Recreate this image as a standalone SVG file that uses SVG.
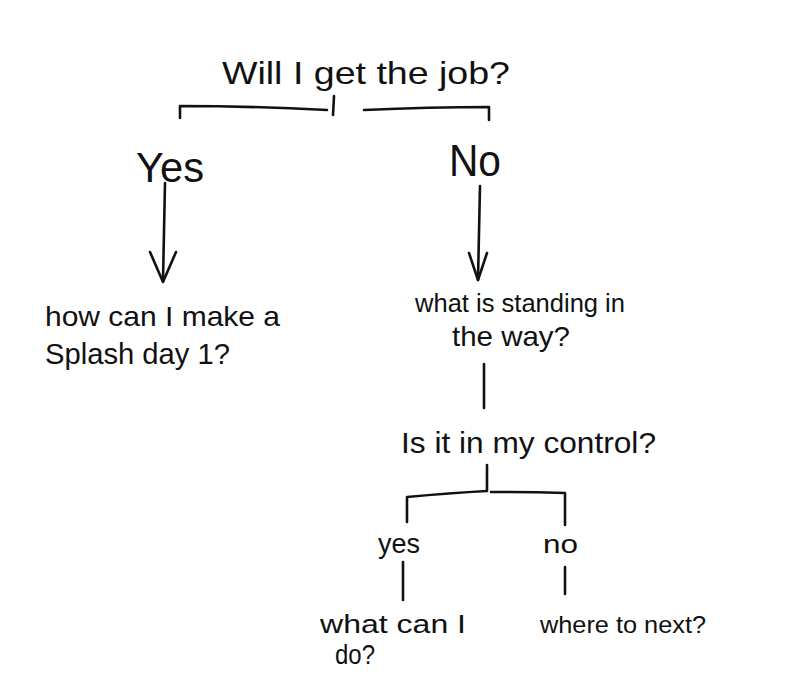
<svg xmlns="http://www.w3.org/2000/svg" width="800" height="698" viewBox="0 0 800 698">
<style>
text{font-family:"Liberation Sans","DejaVu Sans",sans-serif;fill:#111;}
.c{fill:none;stroke:#111;stroke-width:2.6;stroke-linecap:round;stroke-linejoin:round;}
</style>
<rect width="800" height="698" fill="#fff"/>
<g id="connectors">
<path class="c" d="M180 118 L180 106 Q250 106 327 110"/>
<path class="c" d="M334 96 L333 115"/>
<path class="c" d="M364 110 Q430 107 489 107 L489 120"/>
<path class="c" d="M165 183 L163 281"/>
<path class="c" d="M150 252 L163 282 L176 252"/>
<path class="c" d="M480 186 L478 280"/>
<path class="c" d="M469 253 L478 280 L487 253"/>
<path class="c" d="M484 364 L484 408"/>
<path class="c" d="M487 465 L487 490"/>
<path class="c" d="M407 522 L407 497 Q450 493 487 491"/>
<path class="c" d="M491 492 Q530 492 565 493 L565 525"/>
<path class="c" d="M403 562 L403 600"/>
<path class="c" d="M565 567 L565 594"/>
</g>
<g id="n-question"><text x="222" y="84" font-size="32" textLength="288" lengthAdjust="spacingAndGlyphs">Will I get the job?</text></g>
<g id="n-yes"><text x="136" y="182" font-size="42" textLength="68" lengthAdjust="spacingAndGlyphs">Yes</text></g>
<g id="n-no"><text x="449" y="176" font-size="44" textLength="52" lengthAdjust="spacingAndGlyphs">No</text></g>
<g id="n-splash"><text x="45" y="326" font-size="28" textLength="235" lengthAdjust="spacingAndGlyphs">how can I make a</text><text x="45" y="364" font-size="30" textLength="185" lengthAdjust="spacingAndGlyphs">Splash day 1?</text></g>
<g id="n-standing"><text x="415" y="312" font-size="25" textLength="210" lengthAdjust="spacingAndGlyphs">what is standing in</text><text x="452" y="346" font-size="28" textLength="118" lengthAdjust="spacingAndGlyphs">the way?</text></g>
<g id="n-control"><text x="401" y="453" font-size="30" textLength="255" lengthAdjust="spacingAndGlyphs">Is it in my control?</text></g>
<g id="n-yes2"><text x="378" y="553" font-size="28" textLength="42" lengthAdjust="spacingAndGlyphs">yes</text></g>
<g id="n-no2"><text x="543" y="553" font-size="26" textLength="35" lengthAdjust="spacingAndGlyphs">no</text></g>
<g id="n-whatcan"><text x="320" y="633" font-size="26" textLength="146" lengthAdjust="spacingAndGlyphs">what can I</text><text x="335" y="664" font-size="28" textLength="40" lengthAdjust="spacingAndGlyphs">do?</text></g>
<g id="n-where"><text x="540" y="633" font-size="24" textLength="166" lengthAdjust="spacingAndGlyphs">where to next?</text></g>
</svg>
